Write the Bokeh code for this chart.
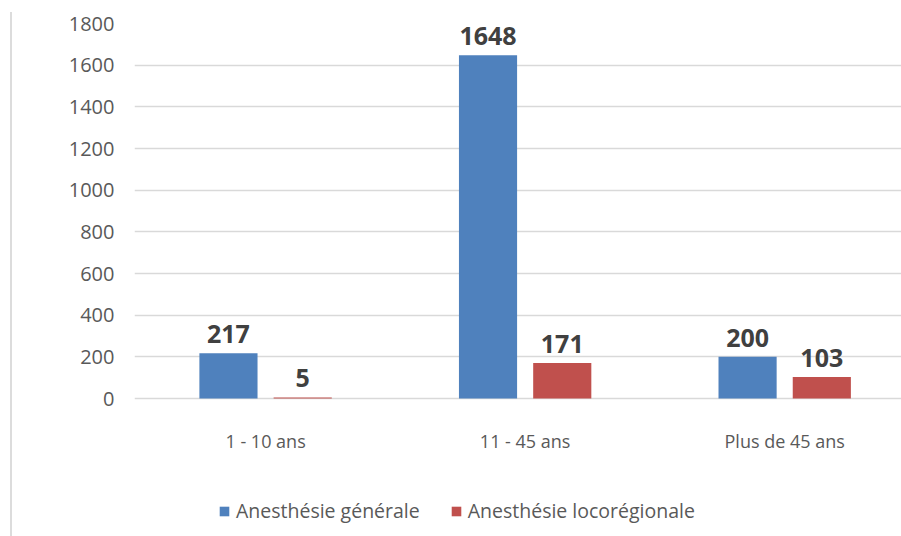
from bokeh.plotting import figure
from bokeh.models import ColumnDataSource, Range1d, FixedTicker, Legend, LegendItem
from bokeh.transform import dodge
from bokeh.core.properties import value
from bokeh.embed import file_html
from bokeh.resources import INLINE

categories = ["1 - 10 ans", "11 - 45 ans", "Plus de 45 ans"]
generale = [217, 1648, 200]
locoregionale = [5, 171, 103]
y_ticks = [0, 200, 400, 600, 800, 1000, 1200, 1400, 1600, 1800]
series_names = ["Anesthésie générale", "Anesthésie locorégionale"]

BLUE = "#4F81BD"
RED = "#C0504D"
FONT = "Open Sans"

src = ColumnDataSource(dict(
    x=list(range(len(categories))),
    base=[0] * len(categories),
    cat=categories,
    gen=generale,
    loc=locoregionale,
    gen_txt=[str(v) for v in generale],
    loc_txt=[str(v) for v in locoregionale],
))

p = figure(width=901, height=536, x_range=Range1d(-0.505, 2.45), y_range=Range1d(-662.4, 1800),
           output_backend="svg", toolbar_location=None,
           min_border_left=134, min_border_right=0, min_border_top=23, min_border_bottom=0)
p.outline_line_color = None
p.background_fill_color = "white"
p.border_fill_alpha = 0
p.styles = {"background": "linear-gradient(#dcdcdc, #dcdcdc) 10px 12px / 2px 524px no-repeat, white"}

off = 0.143
bw = 0.224
r1 = p.vbar(x=dodge("x", -off, range=p.x_range), top="gen", width=bw, source=src,
            fill_color=BLUE, line_color=None)
r2 = p.vbar(x=dodge("x", off, range=p.x_range), top="loc", width=bw, source=src,
            fill_color=RED, line_color=None)

for col, txt, d in (("gen", "gen_txt", -off), ("loc", "loc_txt", off)):
    p.text(x=dodge("x", d, range=p.x_range), y=col, text=txt, source=src,
           text_align="center", text_baseline="bottom", y_offset=-10,
           text_font=value(FONT), text_font_style="bold", text_font_size="25px",
           text_color="#404040")

# category labels under the zero line
p.text(x="x", y="base", text="cat", source=src, text_align="center", text_baseline="middle",
       y_offset=42, text_font=value(FONT), text_font_size="18px", text_color="#595959")

p.xaxis.visible = False
p.xgrid.visible = False
p.ygrid.ticker = FixedTicker(ticks=y_ticks)
p.ygrid.grid_line_color = "#d9d9d9"
p.ygrid.grid_line_width = 1.5

p.yaxis.ticker = FixedTicker(ticks=y_ticks)
p.yaxis.axis_line_color = None
p.yaxis.major_tick_line_color = None
p.yaxis.minor_tick_line_color = None
p.yaxis.major_tick_out = 0
p.yaxis.major_tick_in = 0
p.yaxis.major_label_standoff = 20
p.yaxis.major_label_text_font = FONT
p.yaxis.major_label_text_font_size = "20px"
p.yaxis.major_label_text_color = "#595959"

legend = Legend(items=[LegendItem(label=series_names[0], renderers=[r1]),
                       LegendItem(label=series_names[1], renderers=[r2])],
                location=(84, 12), orientation="horizontal",
                border_line_color=None, background_fill_alpha=0,
                label_text_font=FONT, label_text_font_size="19.5px", label_text_color="#595959",
                glyph_width=12, glyph_height=12, label_standoff=6, spacing=30,
                padding=4, margin=0)
p.add_layout(legend, "center")

open("out.html", "w").write(file_html(p, INLINE))
